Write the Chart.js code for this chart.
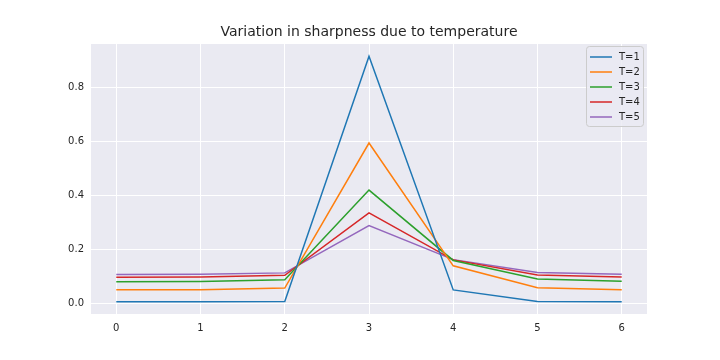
<!DOCTYPE html>
<html>
<head>
<meta charset="utf-8">
<script src="https://cdn.jsdelivr.net/npm/chart.js@4/dist/chart.umd.min.js"></script>
<style>
  body { margin: 0; background: #ffffff; }
  #box { width: 720px; height: 360px; }
</style>
</head>
<body>
<div id="box"><canvas id="sharpChart" width="720" height="360"></canvas></div>
<script>
// Data
const positions = [0, 1, 2, 3, 4, 5, 6]
const labels = ['T=1', 'T=2', 'T=3', 'T=4', 'T=5']
const t1 = [0.007, 0.007, 0.008, 0.915, 0.051, 0.008, 0.007]
const t2 = [0.052, 0.052, 0.058, 0.594, 0.140, 0.059, 0.052]
const t3 = [0.081, 0.082, 0.089, 0.420, 0.160, 0.091, 0.083]
const t4 = [0.098, 0.099, 0.105, 0.336, 0.162, 0.106, 0.099]
const t5 = [0.108, 0.109, 0.114, 0.289, 0.163, 0.115, 0.109]
const yTicks = [0.0, 0.2, 0.4, 0.6, 0.8]
const xTicks = [0, 1, 2, 3, 4, 5, 6]
const title = 'Variation in sharpness due to temperature'

const colors = ['#1f77b4', '#ff7f0e', '#2ca02c', '#d62728', '#9467bd']
const series = [t1, t2, t3, t4, t5]
const font = 'DejaVu Sans'

// grey panel behind the lines, title on top, legend in the corner
const panel = {
    id: 'panel',
    beforeDraw(chart) {
        const {ctx, chartArea: a} = chart
        ctx.save()
        ctx.fillStyle = '#ffffff'
        ctx.fillRect(0, 0, chart.width, chart.height)
        ctx.fillStyle = '#eaeaf2'
        ctx.fillRect(a.left, a.top, a.right - a.left, a.bottom - a.top)
        ctx.restore()
    },
    afterDraw(chart) {
        const {ctx, chartArea: a} = chart
        ctx.save()
        ctx.fillStyle = '#262626'
        ctx.font = '14px "' + font + '"'
        ctx.textAlign = 'center'
        ctx.textBaseline = 'middle'
        ctx.fillText(title, (a.left + a.right) / 2, 32)

        // legend
        const bx = a.right - 61, by = a.top + 2, bw = 57, bh = 80
        ctx.beginPath()
        ctx.roundRect(bx + 0.5, by + 0.5, bw, bh, 3)
        ctx.fillStyle = 'rgba(234,234,242,0.8)'
        ctx.fill()
        ctx.strokeStyle = '#cccccc'
        ctx.lineWidth = 1
        ctx.stroke()
        ctx.font = '10px "' + font + '"'
        ctx.textAlign = 'left'
        chart.data.datasets.forEach((ds, i) => {
            const yy = by + 11 + i * 15
            ctx.strokeStyle = ds.borderColor
            ctx.lineWidth = 1.5
            ctx.beginPath()
            ctx.moveTo(bx + 4, yy)
            ctx.lineTo(bx + 26, yy)
            ctx.stroke()
            ctx.fillStyle = '#262626'
            ctx.fillText(ds.label, bx + 33, yy)
        })
        ctx.restore()
    }
}

const ctx = document.getElementById('sharpChart').getContext('2d')
const sharpChart = new Chart(ctx, {
    type: 'line',
    data: {
        datasets: series.map((s, i) => ({
            label: labels[i],
            data: positions.map((x, j) => ({x: x, y: s[j]})),
            borderColor: colors[i],
            backgroundColor: colors[i],
            borderWidth: 1.5,
            pointRadius: 0,
            tension: 0,
            fill: false
        }))
    },
    options: {
        responsive: false,
        animation: false,
        layout: {padding: {left: 0, right: 73, top: 44, bottom: 0}},
        plugins: {
            legend: {display: false},
            title: {display: false},
            tooltip: {enabled: false}
        },
        scales: {
            x: {
                type: 'linear',
                min: -0.3,
                max: 6.3,
                afterBuildTicks: scale => { scale.ticks = xTicks.map(v => ({value: v})) },
                afterFit: scale => { scale.height = 46 },
                grid: {color: '#ffffff', lineWidth: 1, drawTicks: false},
                border: {display: false},
                ticks: {
                    color: '#262626',
                    font: {family: font, size: 10},
                    padding: 8,
                    maxRotation: 0,
                    callback: v => String(v)
                }
            },
            y: {
                type: 'linear',
                min: -0.038,
                max: 0.96,
                afterBuildTicks: scale => { scale.ticks = yTicks.map(v => ({value: v})) },
                afterFit: scale => { scale.width = 91 },
                grid: {color: '#ffffff', lineWidth: 1, drawTicks: false},
                border: {display: false},
                ticks: {
                    color: '#262626',
                    font: {family: font, size: 10},
                    padding: 7,
                    callback: v => v.toFixed(1)
                }
            }
        }
    },
    plugins: [panel]
})
</script>
</body>
</html>
